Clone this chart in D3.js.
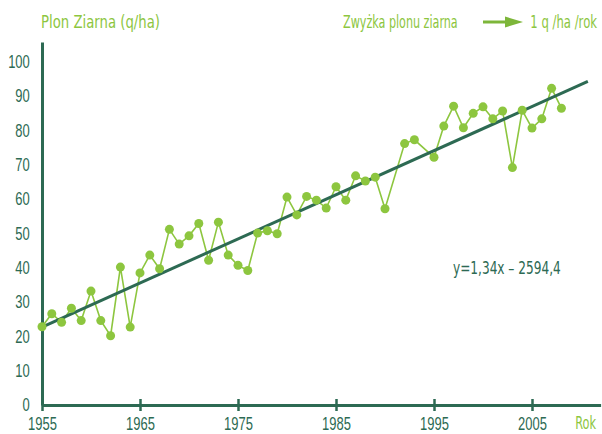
<!DOCTYPE html>
<html>
<head>
<meta charset="utf-8">
<script src="https://cdn.jsdelivr.net/npm/d3@7"></script>
<style>
  html, body { margin: 0; padding: 0; background: #fff; }
  svg { display: block; font-family: "Liberation Sans Narrow", "DejaVu Sans Condensed", sans-serif; }
</style>
</head>
<body>
<div id="chart"></div>
<script>
// yearly grain yield (q/ha)
const years = [1955, 1956, 1957, 1958, 1959, 1960, 1961, 1962, 1963, 1964,
  1965, 1966, 1967, 1968, 1969, 1970, 1971, 1972, 1973, 1974,
  1975, 1976, 1977, 1978, 1979, 1980, 1981, 1982, 1983, 1984,
  1985, 1986, 1987, 1988, 1989, 1990, 1992, 1993, 1995, 1996,
  1997, 1998, 1999, 2000, 2001, 2002, 2003, 2004, 2005, 2006,
  2007, 2008];
const yields = [22.8, 26.6, 24.1, 28.2, 24.6, 33.2, 24.6, 20.2, 40.2, 22.7,
  38.5, 43.7, 39.7, 51.2, 46.9, 49.3, 52.9, 42.2, 53.3, 43.7,
  40.7, 39.2, 50.1, 50.8, 49.9, 60.6, 55.4, 60.8, 59.7, 57.4,
  63.6, 59.7, 66.8, 65.3, 66.4, 57.2, 76.2, 77.3, 72.2, 81.3,
  87.1, 80.8, 85.0, 86.9, 83.4, 85.7, 69.2, 85.9, 80.7, 83.4,
  92.3, 86.5];

// trend line end points
const trendYears = [1955, 2010.7];
const trendValues = [22.7, 94.3];

const xTicks = [1955, 1965, 1975, 1985, 1995, 2005];
const yTicks = [0, 10, 20, 30, 40, 50, 60, 70, 80, 90, 100];

const titleText = 'Plon Ziarna (q/ha)';
const legendText = 'Zwyżka plonu ziarna';
const legendValue = '1 q /ha /rok';
const xLabel = 'Rok';
const equation = 'y=1,34x – 2594,4';

const width = 602, height = 434;
const dark = '#2d6a53';
const light = '#8dc63f';

const svg = d3.select('#chart').append('svg')
  .attr('width', width)
  .attr('height', height);

const x = d3.scaleLinear().domain([1955, 2012]).range([42, 600.6]);
const y = d3.scaleLinear().domain([0, 105.8]).range([405, 42]);

// text helper: condensed look via horizontal squeeze
function label(px, py, txt, color, anchor, sx) {
  svg.append('g')
    .attr('transform', `translate(${px},${py}) scale(${sx},1)`)
    .append('text')
    .attr('text-anchor', anchor)
    .attr('font-size', 18)
    .attr('font-weight', 500)
    .attr('fill', color)
    .text(txt);
}

// Y axis
const yAxis = svg.append('g')
  .attr('transform', `translate(${x(1955)},0)`)
  .call(d3.axisLeft(y).tickValues(yTicks).tickSize(0).tickPadding(17));
yAxis.select('.domain').attr('stroke', dark).attr('stroke-width', 3);
yAxis.selectAll('text')
  .attr('font-size', 18)
  .attr('font-family', null)
  .attr('fill', dark)
  .attr('transform', 'scale(0.72,1)');

// X axis
const xAxis = svg.append('g')
  .attr('transform', `translate(0,${y(0)})`)
  .call(d3.axisBottom(x).tickValues(xTicks).tickFormat(d3.format('d'))
    .tickSizeInner(6).tickSizeOuter(0).tickPadding(6));
xAxis.select('.domain').attr('stroke', dark).attr('stroke-width', 3);
xAxis.selectAll('.tick line')
  .attr('y1', -6).attr('y2', 6)
  .attr('stroke', dark).attr('stroke-width', 2.5);
xAxis.selectAll('text')
  .attr('font-size', 18)
  .attr('font-family', null)
  .attr('fill', dark)
  .attr('transform', 'scale(0.72,1)');

// data line
const pts = years.map((yr, i) => ({ year: yr, value: yields[i] }));
const line = d3.line().x(d => x(d.year)).y(d => y(d.value));

svg.append('path')
  .datum(pts)
  .attr('fill', 'none')
  .attr('stroke', light)
  .attr('stroke-width', 1.6)
  .attr('d', line);

// trend line
const trend = trendYears.map((yr, i) => ({ year: yr, value: trendValues[i] }));
svg.append('path')
  .datum(trend)
  .attr('fill', 'none')
  .attr('stroke', dark)
  .attr('stroke-width', 3)
  .attr('d', line);

// dots
svg.selectAll('.dot')
  .data(pts)
  .enter()
  .append('circle')
  .attr('class', 'dot')
  .attr('cx', d => x(d.year))
  .attr('cy', d => y(d.value))
  .attr('r', 4.5)
  .attr('fill', light);

// texts
label(41, 28, titleText, light, 'start', 0.82);
label(343, 28, legendText, light, 'start', 0.69);
label(597, 28, legendValue, light, 'end', 0.72);
label(596, 429, xLabel, light, 'end', 0.7);
label(453, 274, equation, dark, 'start', 0.75);

// legend arrow
svg.append('line')
  .attr('x1', 483).attr('x2', 506)
  .attr('y1', 22).attr('y2', 22)
  .attr('stroke', '#7db63a')
  .attr('stroke-width', 3);
svg.append('path')
  .attr('d', 'M505,16.5 L523,22 L505,27.5 Z')
  .attr('fill', '#7db63a');
</script>
</body>
</html>
